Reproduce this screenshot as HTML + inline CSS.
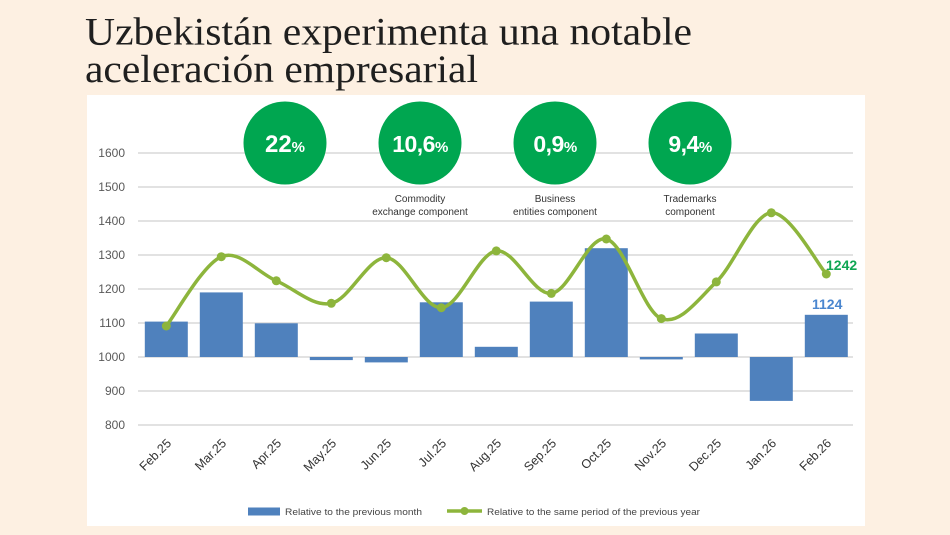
<!DOCTYPE html>
<html><head><meta charset="utf-8"><style>
html,body{margin:0;padding:0;background:#fdf0e2;}
svg{display:block;}
</style></head><body>
<svg width="950" height="535" viewBox="0 0 950 535" xmlns="http://www.w3.org/2000/svg">
<rect x="0" y="0" width="950" height="535" fill="#fdf0e2"/>
<text x="85" y="44.5" font-family="Liberation Serif, serif" font-size="39" fill="#1f1f1f" textLength="607" lengthAdjust="spacingAndGlyphs">Uzbekistán experimenta una notable</text>
<text x="85" y="82" font-family="Liberation Serif, serif" font-size="39" fill="#1f1f1f" textLength="393" lengthAdjust="spacingAndGlyphs">aceleración empresarial</text>
<rect x="87" y="95" width="778" height="431" fill="#ffffff"/>
<g stroke="#d9d9d9" stroke-width="1.5">
<line x1="138" y1="153" x2="853" y2="153"/>
<line x1="138" y1="187" x2="853" y2="187"/>
<line x1="138" y1="221" x2="853" y2="221"/>
<line x1="138" y1="255" x2="853" y2="255"/>
<line x1="138" y1="289" x2="853" y2="289"/>
<line x1="138" y1="323" x2="853" y2="323"/>
<line x1="138" y1="357" x2="853" y2="357"/>
<line x1="138" y1="391" x2="853" y2="391"/>
<line x1="138" y1="425" x2="853" y2="425"/>
</g>
<g font-family="Liberation Sans, sans-serif" font-size="12" fill="#595959" text-anchor="end">
<text x="125" y="157">1600</text>
<text x="125" y="191">1500</text>
<text x="125" y="225">1400</text>
<text x="125" y="259">1300</text>
<text x="125" y="293">1200</text>
<text x="125" y="327">1100</text>
<text x="125" y="361">1000</text>
<text x="125" y="395">900</text>
<text x="125" y="429">800</text>
</g>
<g fill="#4f81bd">
<rect x="144.8" y="321.6" width="43" height="35.4"/>
<rect x="199.8" y="292.4" width="43" height="64.6"/>
<rect x="254.8" y="323.3" width="43" height="33.7"/>
<rect x="309.8" y="357" width="43" height="3.1"/>
<rect x="364.8" y="357" width="43" height="5.4"/>
<rect x="419.8" y="302.3" width="43" height="54.7"/>
<rect x="474.8" y="346.8" width="43" height="10.2"/>
<rect x="529.8" y="301.6" width="43" height="55.4"/>
<rect x="584.8" y="248.2" width="43" height="108.8"/>
<rect x="639.8" y="357" width="43" height="2.4"/>
<rect x="694.8" y="333.5" width="43" height="23.5"/>
<rect x="749.8" y="357" width="43" height="43.9"/>
<rect x="804.8" y="314.8" width="43" height="42.2"/>
</g>
<path fill="none" stroke="#8db53c" stroke-width="3.5" stroke-linejoin="round" stroke-linecap="round" d="M166.3,326 C175.5,314.45 203,264.2 221.3,256.7 C239.6,249.2 258,273.0 276.3,280.8 C294.6,288.6 313,307.2 331.3,303.3 C349.6,299.5 368,257.0 386.3,257.7 C404.6,258.4 423,308.8 441.3,307.7 C459.6,306.6 478,253.3 496.3,250.9 C514.6,248.5 533,295.4 551.3,293.4 C569.6,291.4 588,234.8 606.3,239.0 C624.6,243.2 643,311.5 661.3,318.6 C679.6,325.8 698,299.5 716.3,281.9 C734.6,264.3 753,214.1 771.3,212.8 C789.6,211.5 817.1,263.8 826.3,274.0"/>
<g fill="#8db53c">
<circle cx="166.3" cy="326" r="4.5"/>
<circle cx="221.3" cy="256.7" r="4.5"/>
<circle cx="276.3" cy="280.8" r="4.5"/>
<circle cx="331.3" cy="303.3" r="4.5"/>
<circle cx="386.3" cy="257.7" r="4.5"/>
<circle cx="441.3" cy="307.7" r="4.5"/>
<circle cx="496.3" cy="250.9" r="4.5"/>
<circle cx="551.3" cy="293.4" r="4.5"/>
<circle cx="606.3" cy="239.0" r="4.5"/>
<circle cx="661.3" cy="318.6" r="4.5"/>
<circle cx="716.3" cy="281.9" r="4.5"/>
<circle cx="771.3" cy="212.8" r="4.5"/>
<circle cx="826.3" cy="274.0" r="4.5"/>
</g>
<text x="826" y="270" font-family="Liberation Sans, sans-serif" font-size="14" font-weight="bold" fill="#0fa653">1242</text>
<text x="812" y="309" font-family="Liberation Sans, sans-serif" font-size="14" font-weight="bold" fill="#4a86cf">1124</text>
<g fill="#00a650">
<circle cx="285" cy="143" r="41.5"/>
<circle cx="420" cy="143" r="41.5"/>
<circle cx="555" cy="143" r="41.5"/>
<circle cx="690" cy="143" r="41.5"/>
</g>
<g font-family="Liberation Sans, sans-serif" font-weight="bold" fill="#ffffff" text-anchor="middle">
<text x="285" y="152" font-size="24">22<tspan font-size="15">%</tspan></text>
<text x="420" y="152" font-size="23" letter-spacing="-0.5">10,6<tspan font-size="15">%</tspan></text>
<text x="555" y="152" font-size="23" letter-spacing="-0.5">0,9<tspan font-size="15">%</tspan></text>
<text x="690" y="152" font-size="23" letter-spacing="-0.5">9,4<tspan font-size="15">%</tspan></text>
</g>
<g font-family="Liberation Sans, sans-serif" font-size="10" fill="#333" text-anchor="middle">
<text x="420" y="202">Commodity</text>
<text x="420" y="215">exchange component</text>
<text x="555" y="202">Business</text>
<text x="555" y="215">entities component</text>
<text x="690" y="202">Trademarks</text>
<text x="690" y="215">component</text>
</g>
<g font-family="Liberation Sans, sans-serif" font-size="12.5" fill="#333" text-anchor="end">
<text transform="translate(172,444) rotate(-45)">Feb.25</text>
<text transform="translate(227,444) rotate(-45)">Mar.25</text>
<text transform="translate(282,444) rotate(-45)">Apr.25</text>
<text transform="translate(337,444) rotate(-45)">May.25</text>
<text transform="translate(392,444) rotate(-45)">Jun.25</text>
<text transform="translate(447,444) rotate(-45)">Jul.25</text>
<text transform="translate(502,444) rotate(-45)">Aug.25</text>
<text transform="translate(557,444) rotate(-45)">Sep.25</text>
<text transform="translate(612,444) rotate(-45)">Oct.25</text>
<text transform="translate(667,444) rotate(-45)">Nov.25</text>
<text transform="translate(722,444) rotate(-45)">Dec.25</text>
<text transform="translate(777,444) rotate(-45)">Jan.26</text>
<text transform="translate(832,444) rotate(-45)">Feb.26</text>
</g>
<rect x="248" y="507.5" width="32" height="8" fill="#4f81bd"/>
<text x="285" y="515" font-family="Liberation Sans, sans-serif" font-size="9.5" fill="#444" textLength="137" lengthAdjust="spacingAndGlyphs">Relative to the previous month</text>
<line x1="447" y1="511" x2="482" y2="511" stroke="#8db53c" stroke-width="3.5"/>
<circle cx="464.5" cy="511" r="4" fill="#8db53c"/>
<text x="487" y="515" font-family="Liberation Sans, sans-serif" font-size="9.5" fill="#444" textLength="213" lengthAdjust="spacingAndGlyphs">Relative to the same period of the previous year</text>
</svg>
</body></html>
